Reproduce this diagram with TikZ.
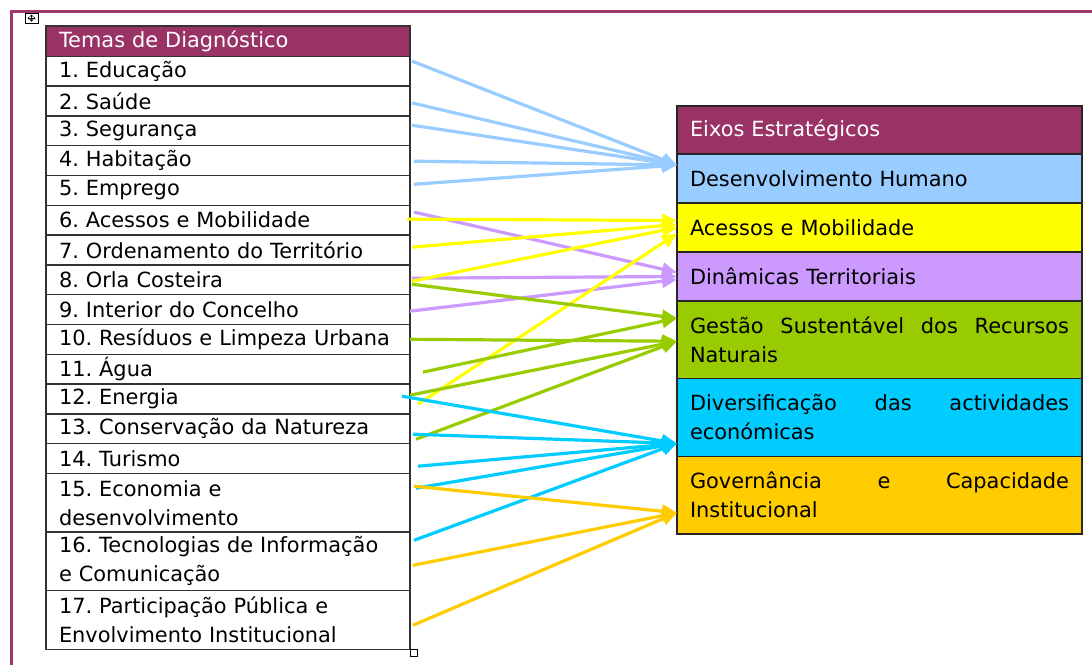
\documentclass[tikz,border=0pt]{standalone}
\usepackage{fontspec}
\setmainfont{DejaVu Sans}
\usetikzlibrary{arrows.meta, positioning, calc}
\definecolor{headmaroon}{HTML}{993366}
\definecolor{framemaroon}{HTML}{A0386A}
\definecolor{humanblue}{HTML}{99CCFF}
\definecolor{accessyellow}{HTML}{FFFF00}
\definecolor{territorylilac}{HTML}{CC99FF}
\definecolor{resourcegreen}{HTML}{99CC00}
\definecolor{economycyan}{HTML}{00CCFF}
\definecolor{governorange}{HTML}{FFCC00}
\frenchspacing

\begin{document}
\begin{tikzpicture}[x=1pt, y=-1pt, font=\fontsize{20.9}{29}\selectfont,
  tema/.style={draw=black!80, line width=1.4pt, outer sep=0pt, inner xsep=13pt, inner ysep=0pt, text width=338pt, minimum height=29.8pt, align=left},
  tema2/.style={tema, minimum height=58.6pt},
  eixo/.style={draw=black!85, line width=1.4pt, outer sep=0pt, inner xsep=13pt, inner ysep=0pt, text width=379pt, minimum height=49pt, align=left},
  eixo2/.style={eixo, minimum height=77.5pt},
  link/.style={line width=3.2pt, -{Triangle[length=15pt, width=13pt]}}]
  \useasboundingbox (0,0) rectangle (1092,665);
  \draw[framemaroon, line width=3pt] (11.5,665) -- (11.5,11.5) -- (1092,11.5);
  \draw[line width=0.8pt, fill=white] (25,13) rectangle (38,23);
  \draw[line width=0.6pt, {Straight Barb[length=1.5pt]}-{Straight Barb[length=1.5pt]}] (31.5,14.5) -- (31.5,21.5);
  \draw[line width=0.6pt, {Straight Barb[length=1.5pt]}-{Straight Barb[length=1.5pt]}] (27.5,18) -- (35.5,18);

  \node[tema, fill=headmaroon, text=white, anchor=north west, minimum height=30.4pt] (temas) at (46,25.8) {Temas de Diagnóstico};
  \node[tema, below=0pt of temas] (r1) {1. Educação};
  \node[tema, below=0pt of r1] (r2) {2. Saúde};
  \node[tema, below=0pt of r2] (r3) {3. Segurança};
  \node[tema, below=0pt of r3] (r4) {4. Habitação};
  \node[tema, below=0pt of r4] (r5) {5. Emprego};
  \node[tema, below=0pt of r5] (r6) {6. Acessos e Mobilidade};
  \node[tema, below=0pt of r6] (r7) {7. Ordenamento do Território};
  \node[tema, below=0pt of r7] (r8) {8. Orla Costeira};
  \node[tema, below=0pt of r8] (r9) {9. Interior do Concelho};
  \node[tema, below=0pt of r9] (r10) {10. Resíduos e Limpeza Urbana};
  \node[tema, below=0pt of r10] (r11) {11. Água};
  \node[tema, below=0pt of r11] (r12) {12. Energia};
  \node[tema, below=0pt of r12] (r13) {13. Conservação da Natureza};
  \node[tema, below=0pt of r13] (r14) {14. Turismo};
  \node[tema2, below=0pt of r14] (r15) {15. Economia e\\desenvolvimento};
  \node[tema2, below=0pt of r15] (r16) {16. Tecnologias de Informação\\e Comunicação};
  \node[tema2, below=0pt of r16] (r17) {17. Participação Pública e\\Envolvimento Institucional};
  \draw[line width=0.8pt, fill=white] (r17.south east) rectangle ++(7,7);

  \node[eixo, fill=headmaroon, text=white, anchor=north west, minimum height=48pt] (eixos) at (677,106) {Eixos Estratégicos};
  \node[eixo, fill=humanblue, below=0pt of eixos] (dh) {Desenvolvimento Humano};
  \node[eixo, fill=accessyellow, below=0pt of dh] (am) {Acessos e Mobilidade};
  \node[eixo, fill=territorylilac, below=0pt of am] (dt) {Dinâmicas Territoriais};
  \node[eixo2, fill=resourcegreen, below=0pt of dt] (gs) {Gestão\hfill Sustentável\hfill dos\hfill Recursos\\Naturais};
  \node[eixo2, fill=economycyan, below=0pt of gs, minimum height=78pt] (de) {Diversificação\hfill das\hfill actividades\\económicas};
  \node[eixo2, fill=governorange, below=0pt of de] (gc) {Governância\hfill e\hfill Capacidade\\Institucional};

  \draw[link, humanblue] ($(r1.east)+(2,-10)$) -- ($(dh.west)+(0,-13.5)$);
  \draw[link, humanblue] ($(r2.east)+(2,2)$) -- ($(dh.west)+(0,-13.5)$);
  \draw[link, humanblue] ($(r3.east)+(2,-5.5)$) -- ($(dh.west)+(0,-13.5)$);
  \draw[link, humanblue] ($(r4.east)+(4,0.7)$) -- ($(dh.west)+(0,-13.5)$);
  \draw[link, humanblue] ($(r5.east)+(4,-6)$) -- ($(dh.west)+(0,-13.5)$);

  \draw[link, territorylilac] ($(r6.east)+(4,-8)$) -- ($(dt.west)+(0,-4)$);
  \draw[link, territorylilac] ($(r8.east)+(2,-1.5)$) -- ($(dt.west)+(0,0)$);
  \draw[link, territorylilac] ($(r9.east)+(0,1.7)$) -- ($(dt.west)+(0,3)$);

  \draw[link, accessyellow] ($(r6.east)+(-3,-1)$) -- ($(am.west)+(0,-7)$);
  \draw[link, accessyellow] ($(r7.east)+(2,-2.7)$) -- ($(am.west)+(0,-3)$);
  \draw[link, accessyellow] ($(r8.east)+(2,1.5)$) -- ($(am.west)+(0,0)$);
  \draw[link, accessyellow] ($(r12.east)+(8,5.3)$) -- ($(am.west)+(0,6)$);

  \draw[link, resourcegreen] ($(r8.east)+(2,4.5)$) -- ($(gs.west)+(0,-21.5)$);
  \draw[link, resourcegreen] ($(r10.east)+(0,0)$) -- ($(gs.west)+(0,1.5)$);
  \draw[link, resourcegreen] ($(r11.east)+(13,3)$) -- ($(gs.west)+(0,-21.5)$);
  \draw[link, resourcegreen] ($(r12.east)+(0,-3.7)$) -- ($(gs.west)+(0,1.5)$);
  \draw[link, resourcegreen] ($(r13.east)+(6,10.5)$) -- ($(gs.west)+(0,1.5)$);

  \draw[link, economycyan] ($(r12.east)+(-8,-2.7)$) -- ($(de.west)+(0,26)$);
  \draw[link, economycyan] ($(r13.east)+(3,5.5)$) -- ($(de.west)+(0,26)$);
  \draw[link, economycyan] ($(r14.east)+(8,7.7)$) -- ($(de.west)+(0,26)$);
  \draw[link, economycyan] ($(r15.east)+(6,-14.5)$) -- ($(de.west)+(0,26)$);
  \draw[link, economycyan] ($(r16.east)+(4,-21)$) -- ($(de.west)+(0,26)$);

  \draw[link, governorange] ($(r15.east)+(4,-16.5)$) -- ($(gc.west)+(0,17.5)$);
  \draw[link, governorange] ($(r16.east)+(3,4)$) -- ($(gc.west)+(0,17.5)$);
  \draw[link, governorange] ($(r17.east)+(3,5.3)$) -- ($(gc.west)+(0,17.5)$);
\end{tikzpicture}
\end{document}
